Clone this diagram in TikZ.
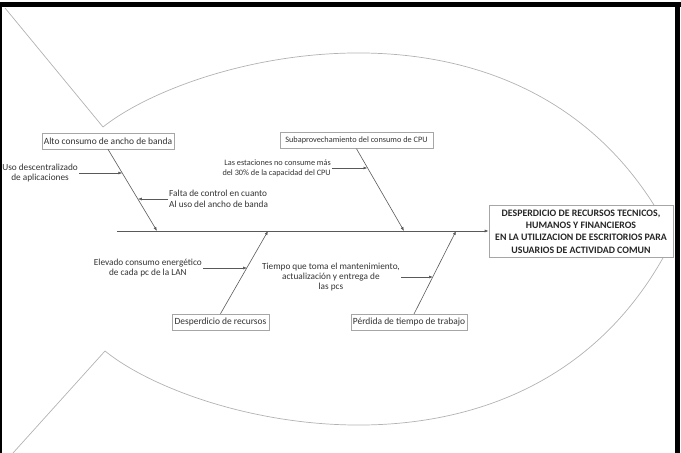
\documentclass[tikz,border=0pt]{standalone}
\usepackage{fontspec}
\setmainfont{Carlito}
\usetikzlibrary{arrows.meta,shadows}
\begin{document}
\begin{tikzpicture}[x=1bp,y=-1bp,
  fishline/.style={draw=gray!60,line width=0.7bp},
  bone/.style={draw=black!65,line width=0.6bp,-{Latex[length=4bp,width=3bp]}},
  causebox/.style={draw=gray!70,fill=white,line width=0.6bp,inner sep=0pt,
    drop shadow={shadow xshift=1bp,shadow yshift=-1bp,fill=gray!35,opacity=1},
    text=black!80,font=\fontsize{9.5}{10}\selectfont},
  note/.style={inner sep=1bp,text=black!80,font=\fontsize{9.3}{10.5}\selectfont},
  effbox/.style={draw=gray!70,fill=white,line width=0.6bp,inner sep=0pt,align=center,
    drop shadow={shadow xshift=1bp,shadow yshift=-1bp,fill=gray!35,opacity=1},
    text=black!85,font=\bfseries\fontsize{9.9}{12.3}\selectfont}]
\useasboundingbox (0,0) rectangle (681,453);
% frame
\fill[black] (0,2) rectangle (681,7);
\fill[black] (0,2) rectangle (2,453);
\fill[black] (675,2) rectangle (680,453);
% fish outline
\coordinate (tailtop) at (5,8);
\coordinate (vtop) at (103,127);
\coordinate (nose) at (673,239);
\coordinate (vbot) at (105,351);
\coordinate (tailbot) at (13,453);
\draw[fishline] (tailtop) -- (vtop) .. controls (200,50) and (540,-30) .. (nose);
\draw[fishline] (tailbot) -- (vbot) .. controls (200,428) and (540,508) .. (nose);
% effect
\node[effbox,minimum width=184bp,minimum height=52bp] (eff) at (581,231.5)
  {DESPERDICIO DE RECURSOS TECNICOS,\\HUMANOS Y FINANCIEROS\\EN LA UTILIZACION DE ESCRITORIOS PARA\\USUARIOS DE ACTIVIDAD COMUN};
% spine
\coordinate (tail) at (117,231);
\draw[bone] (tail) -- (eff.west |- tail);
% cause boxes
\node[causebox,minimum width=132bp,minimum height=16bp] (alto) at (108,141) {Alto consumo de ancho de banda};
\node[causebox,minimum width=153bp,minimum height=16bp,font=\fontsize{8.3}{9}\selectfont] (subap) at (356.5,140.5) {Subaprovechamiento del consumo de CPU};
\node[causebox,minimum width=97bp,minimum height=16bp] (desp) at (220.5,322) {Desperdicio de recursos};
\node[causebox,minimum width=116bp,minimum height=16bp] (perd) at (409,322) {Pérdida de tiempo de trabajo};
% spine points
\coordinate (s1) at (157,231);
\coordinate (s2) at (404,231);
\coordinate (s3) at (268,231);
\coordinate (s4) at (456,231);
\coordinate (p4) at (414,314);
\draw[bone] (alto.south) -- (s1);
\draw[bone] (subap.south) -- (s2);
\draw[bone] (desp.north) -- (s3);
\draw[bone] (p4) -- (s4);
% points on bones
\coordinate (b1) at (122.3,173);
\coordinate (b2) at (137.9,199);
\coordinate (b3) at (367.5,168);
\coordinate (b4) at (247.1,268);
\coordinate (b5) at (433,277);
% sub-causes
\node[note,align=center,anchor=east] (uso) at (79,173) {Uso descentralizado\\de aplicaciones};
\node[note,align=left,anchor=west] (falta) at (168,199) {Falta de control en cuanto\\Al uso del ancho de banda};
\node[note,align=right,anchor=east,font=\fontsize{8.3}{10}\selectfont] (estac) at (332,168) {Las estaciones no consume más\\del 30\% de la capacidad del CPU};
\node[note,align=center,anchor=east,font=\fontsize{9.3}{10.5}\selectfont] (elev) at (203,268) {Elevado consumo energético\\de cada pc de la LAN};
\node[note,align=center,anchor=east] (tiempo) at (401,277) {Tiempo que toma el mantenimiento,\\actualización y entrega de\\las pcs};
\draw[bone] (uso.east) -- (b1);
\draw[bone] (falta.west) -- (b2);
\draw[bone] (estac.east) -- (b3);
\draw[bone] (elev.east) -- (b4);
\draw[bone] (tiempo.east) -- (b5);
\end{tikzpicture}
\end{document}
